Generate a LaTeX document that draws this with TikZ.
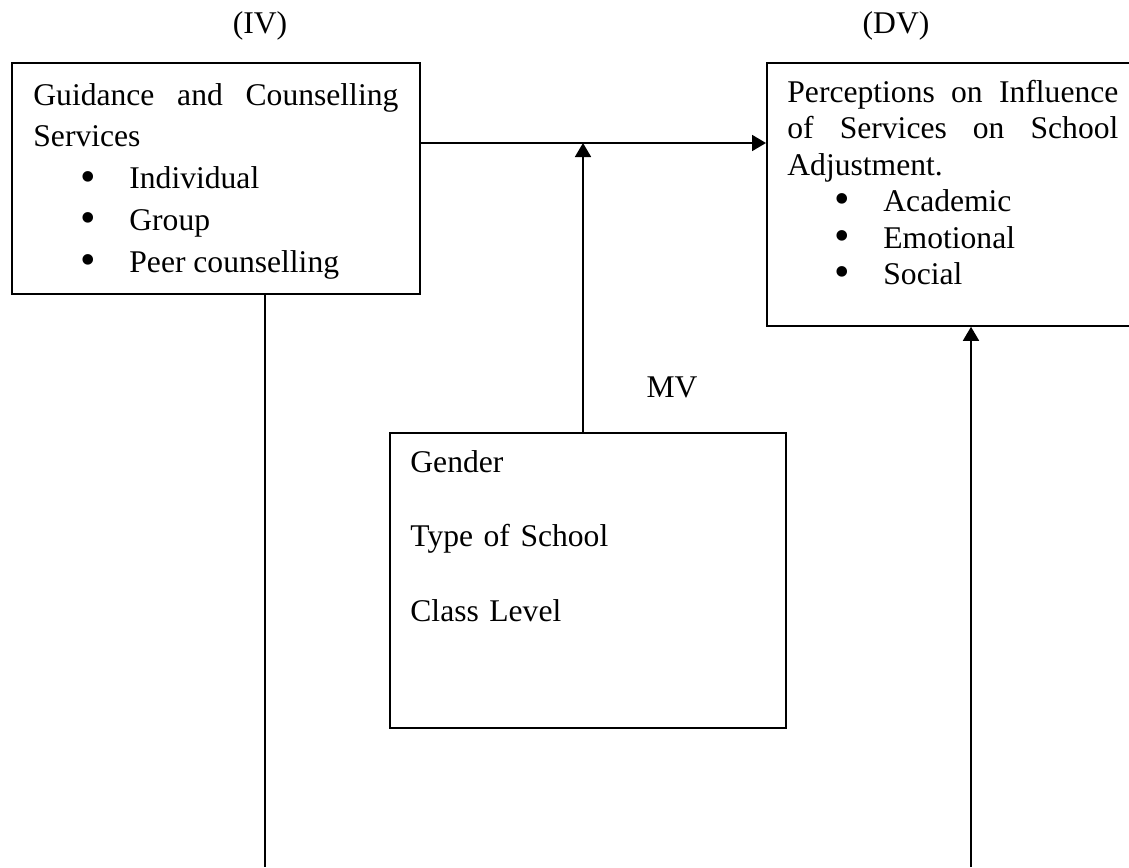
\documentclass[tikz,border=0pt]{standalone}
\usepackage{fontspec}
\usepackage{graphicx}
\setmainfont{Liberation Serif}
\usetikzlibrary{arrows.meta}
\newcommand{\bitem}[1]{\par\hspace*{23.5pt}\makebox[24.5pt][l]{\smash{\raisebox{-1.2pt}{\scalebox{1.4}{\textbullet}}}}#1}

\begin{document}
\begin{tikzpicture}[x=0.5pt, y=-0.5pt, >={Triangle[length=7pt, width=8pt]},
    box/.style={draw, line width=0.9pt, inner sep=0pt, anchor=north west},
    txt/.style={inner sep=0pt, anchor=base west, align=justify},
    lbl/.style={inner sep=0pt, anchor=base, font=\fontsize{15.8}{19}\selectfont},
    conn/.style={line width=0.9pt}]
    % Vùng hiển thị
    \clip (0,0) rectangle (1129,867);

    % 1. Nhãn biến
    \node[lbl] (ivlbl) at (260,33) {(IV)};
    \node[lbl] (dvlbl) at (896,33) {(DV)};
    \node[lbl] (mvlbl) at (672,397) {MV};

    % 2. Các hộp
    \node[box, minimum width=204pt, minimum height=115.5pt] (iv) at (11,62) {};
    \node[box, minimum width=190pt, minimum height=131.5pt] (dv) at (766,62) {};
    \node[box, minimum width=198pt, minimum height=147.5pt] (mv) at (389,432) {};

    % 3. Nội dung các hộp
    \node[txt, text width=182.5pt, font=\fontsize{15.8}{20.9}\selectfont] (ivtxt) at (33,105)
        {Guidance and Counselling\linebreak Services
         \bitem{Individual}\bitem{Group}\bitem{Peer counselling}};
    \node[txt, text width=165.5pt, font=\fontsize{15.8}{18.25}\selectfont] (dvtxt) at (787,102)
        {Perceptions on Influence\linebreak of Services on School\linebreak Adjustment.
         \bitem{Academic}\bitem{Emotional}\bitem{Social}};
    \node[txt, text width=160pt, align=left, font=\fontsize{15.8}{37.25}\selectfont] (mvtxt) at (410,472)
        {Gender\\Type of School\\Class Level};

    % 4. Mũi tên
    \coordinate (jn) at (583,143);
    \coordinate (ivfoot) at (265,867);
    \coordinate (dvfoot) at (971,867);
    \draw[conn, ->] (iv.east |- jn) -- (dv.west |- jn);
    \draw[conn, ->] (jn |- mv.north) -- (jn);
    \draw[conn] (ivfoot |- iv.south) -- (ivfoot);
    \draw[conn, ->] (dvfoot) -- (dvfoot |- dv.south);

\end{tikzpicture}
\end{document}
